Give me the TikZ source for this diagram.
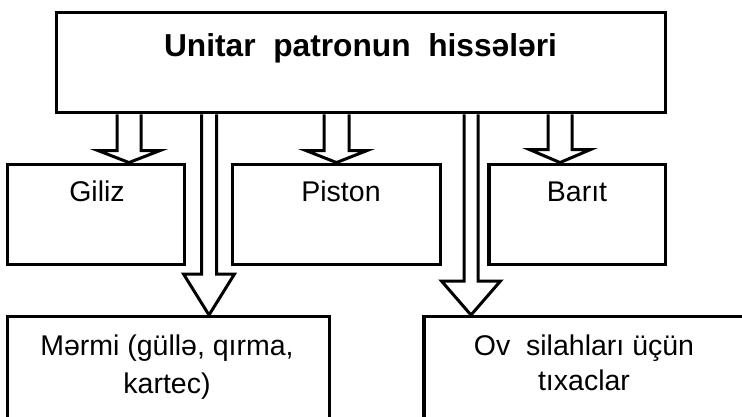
\documentclass[tikz,border=0pt]{standalone}
\usepackage{fontspec}
\setmainfont{Liberation Sans}
\usetikzlibrary{calc,positioning}

\begin{document}
\begin{tikzpicture}[
  x=1pt,y=-1pt,
  box/.style={draw=black,fill=white,line width=3.3pt,inner sep=0pt},
  hollow/.style={draw=black,line width=3pt,line join=miter},
  caption/.style={anchor=base,align=center,
    font=\fontsize{28.5}{35}\selectfont},
  headline/.style={anchor=base,font=\bfseries\fontsize{31.7}{36}\selectfont}
]

% hollow block arrow: from, to, x, shaft half, head half, head length
\newcommand{\hollowarrow}[6]{%
  \draw[hollow] let \p1=(#1.south), \p2=(#2.north) in
    (#3pt-#4pt,\y1) -- (#3pt-#4pt,\y2+#6pt) -- (#3pt-#5pt,\y2+#6pt)
    -- (#3pt,\y2) -- (#3pt+#5pt,\y2+#6pt) -- (#3pt+#4pt,\y2+#6pt)
    -- (#3pt+#4pt,\y1);}

\useasboundingbox (0,0) rectangle (742,416);
\clip (0,0) rectangle (742,416);

\node[box,minimum width=608.6pt,minimum height=100pt] (parts) at (361,62.7) {};
\node[headline] (partsText) at (360.5,56.7) {Unitar~~patronun~~hissələri};

\node[box,minimum width=177pt,minimum height=100pt] (giliz) at (95.8,214.2) {};
\node[box,minimum width=208.4pt,minimum height=100pt] (piston) at (336.5,214.2) {};
\node[box,minimum width=176.3pt,minimum height=100pt] (barit) at (577,214.2) {};
\node[caption] (gilizText) at (97,201.7) {Giliz};
\node[caption] (pistonText) at (341,201.2) {Piston};
\node[caption] (baritText) at (577,201.7) {Barıt};

\node[box,minimum width=322pt,minimum height=123.3pt] (mermi) at (168.3,378.3) {};
\node[box,minimum width=320pt,minimum height=123.3pt] (tixac) at (584,378.3) {};
% base anchor sits on the last line here
\node[caption] (mermiText) at (167,393.3) {Mərmi (güllə, qırma,\\[3pt] kartec)};
\node[caption] (tixacText) at (584,390) {Ov~~silahları üçün\\ tıxaclar};

\hollowarrow{parts}{giliz}{129}{12}{31}{12}
\hollowarrow{parts}{piston}{336.5}{12.5}{30.5}{12}
\hollowarrow{parts}{barit}{560}{12}{30.5}{13}
\hollowarrow{parts}{mermi}{209}{7.5}{25.5}{41}
\hollowarrow{parts}{tixac}{471}{7}{29.5}{34}

\end{tikzpicture}
\end{document}
